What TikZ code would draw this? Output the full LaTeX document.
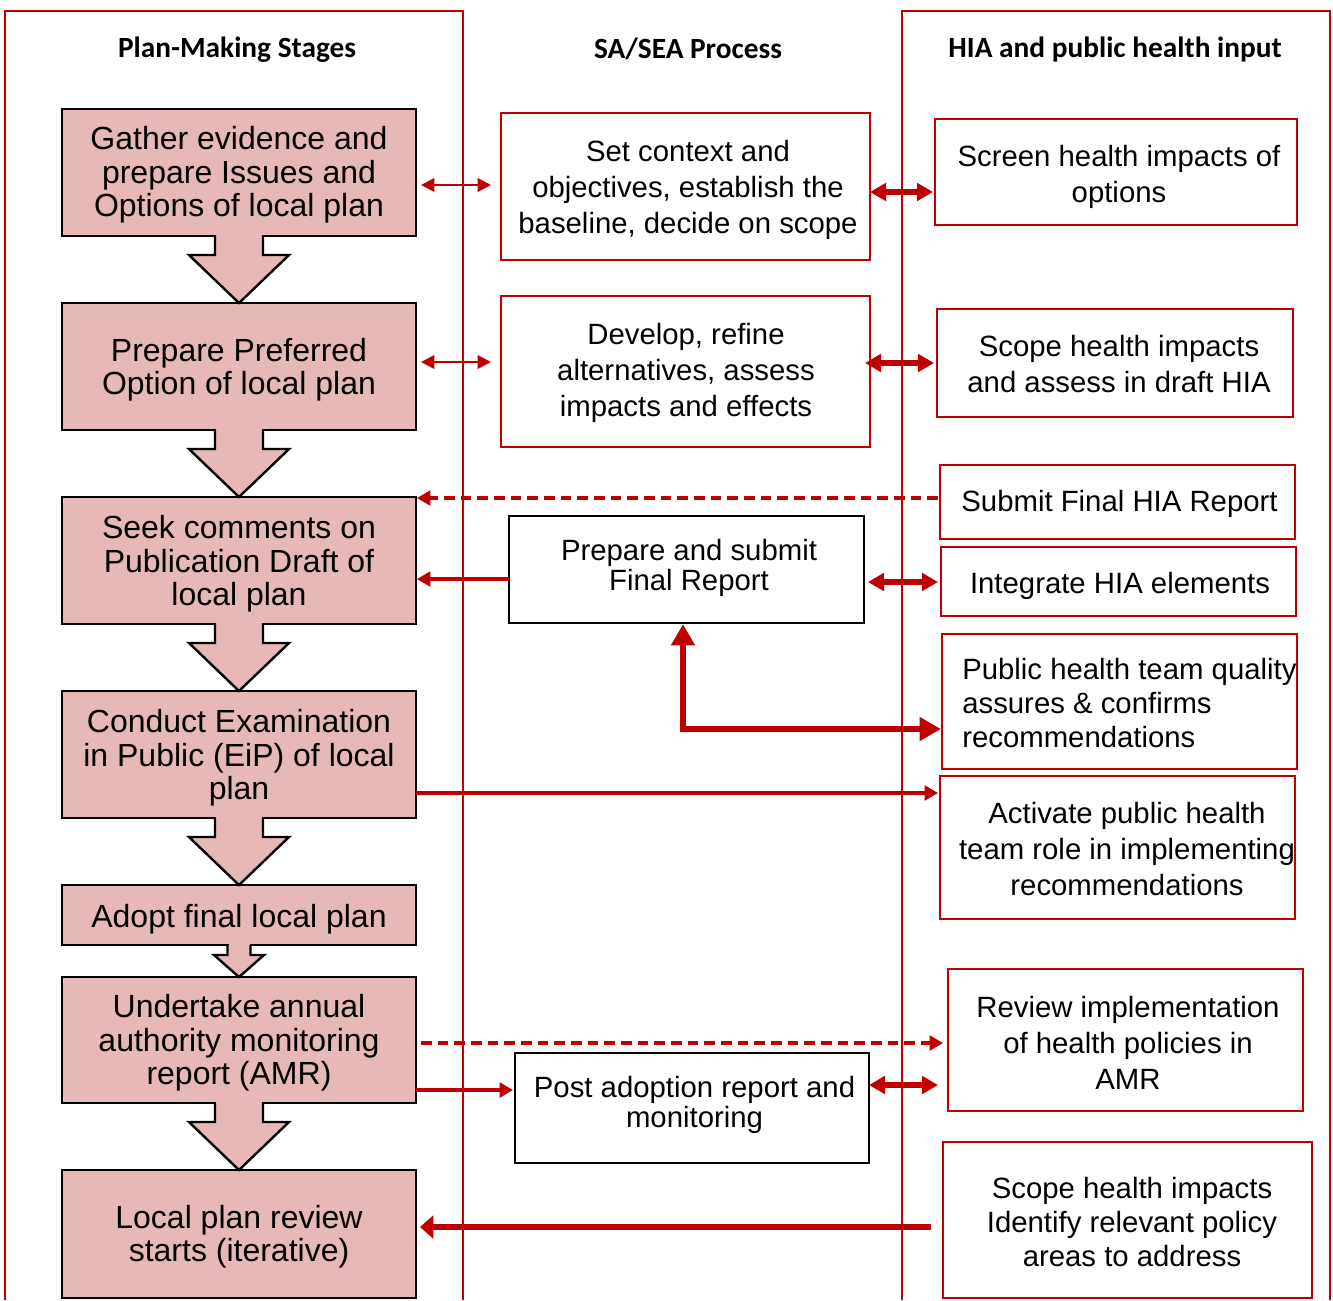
\documentclass[tikz,border=0pt]{standalone}
\usepackage{fontspec}
\setmainfont{Liberation Sans}
\newfontfamily\hdrfont{Carlito}
\usetikzlibrary{arrows.meta,calc,fit}
\definecolor{redc}{HTML}{C00000}
\definecolor{pinkc}{HTML}{E6B8B7}
\newcommand\blockarr[5]{%
 \fill[pinkc] ($(#1.south)+({-#3+1},-2)$) rectangle ($(#1.south)+({#3-1},1)$);
 \filldraw[fill=pinkc,draw=black,line width=1.8pt,line join=miter]
   ($(#1.south)+(-#3,0)$) -- ($(#1.south)+(-#3,#5)$) -- ($(#1.south)+(-#4,#5)$)
   -- (#2.north) -- ($(#1.south)+(#4,#5)$) -- ($(#1.south)+(#3,#5)$) -- ($(#1.south)+(#3,0)$);
}
\begin{document}
\begin{tikzpicture}[x=0.75pt,y=-0.75pt,
 pinkbox/.style={draw=black, fill=pinkc, line width=1.8pt, inner sep=0pt, outer sep=0pt},
 redbox/.style={draw=redc, line width=1.8pt, inner sep=0pt, outer sep=0pt},
 blackbox/.style={draw=black, line width=1.8pt, inner sep=0pt, outer sep=0pt},
 bigtxt/.style={align=center, font=\fontsize{24}{25}\selectfont, inner sep=0pt, yshift=-2.25pt},
 midtxt/.style={align=center, font=\fontsize{22}{27}\selectfont, inner sep=0pt, yshift=-2.25pt},
 hdr/.style={font=\hdrfont\bfseries\fontsize{22}{24}\selectfont, inner sep=0pt, yshift=-2.25pt},
 colline/.style={draw=redc, line width=1.5pt},
 thinarr/.style={draw=redc, line width=2pt, {Triangle[length=10pt,width=10pt]}-{Triangle[length=10pt,width=10pt]}},
 thickarr/.style={draw=redc, line width=4pt, {Triangle[length=12pt,width=13pt]}-{Triangle[length=12pt,width=13pt]}},
 onearr/.style={draw=redc, line width=2.3pt, -{Triangle[length=10pt,width=11pt]}},
 dasharr/.style={draw=redc, line width=2.5pt, dash pattern=on 8pt off 4.5pt, -{Triangle[length=10pt,width=11pt]}},
 heavyarr/.style={draw=redc, line width=5pt, -{Triangle[length=10pt,width=17pt]}},
 elbarr/.style={draw=redc, line width=4.8pt, {Triangle[length=16pt,width=17pt]}-{Triangle[length=16pt,width=17pt]}},
]
\useasboundingbox (0,0) rectangle (1333,1300);

% column frame
\draw[colline] (5,1300) -- (5,11) -- (463,11) -- (463,1300);
\draw[colline] (902,1300) -- (902,11) -- (1330,11) -- (1330,1300);

% headers
\node[hdr] (h1) at (237,47) {Plan-Making Stages};
\node[hdr] (h2) at (688,46) {SA/SEA Process};
\node[hdr] (h3) at (1115,47) {HIA and public health input};

% pink stage boxes
\node[pinkbox, fit={(62,109) (416,236)}] (b1) {};
\node[pinkbox, fit={(62,303) (416,430)}] (b2) {};
\node[pinkbox, fit={(62,497) (416,624)}] (b3) {};
\node[pinkbox, fit={(62,691) (416,818)}] (b4) {};
\node[pinkbox, fit={(62,885) (416,945)}] (b5) {};
\node[pinkbox, fit={(62,977) (416,1103)}] (b6) {};
\node[pinkbox, fit={(62,1170) (416,1298)}] (b7) {};

\node[bigtxt] (t1) at (239,172) {Gather evidence and\\prepare Issues and\\Options of local plan};
\node[bigtxt] (t2) at (239,367) {Prepare Preferred\\Option of local plan};
\node[bigtxt] (t3) at (239,561) {Seek comments on\\Publication Draft of\\local plan};
\node[bigtxt] (t4) at (239,755) {Conduct Examination\\in Public (EiP) of local\\plan};
\node[bigtxt] (t5) at (239,916) {Adopt final local plan};
\node[bigtxt] (t6) at (239,1040) {Undertake annual\\authority monitoring\\report (AMR)};
\node[bigtxt] (t7) at (239,1234) {Local plan review\\starts (iterative)};

% block arrows
\blockarr{b1}{b2}{24}{50}{19}
\blockarr{b2}{b3}{24}{50}{19}
\blockarr{b3}{b4}{24}{50}{19}
\blockarr{b4}{b5}{24}{50}{19}
\blockarr{b5}{b6}{11.5}{25}{10}
\blockarr{b6}{b7}{24}{50}{19}

% middle column
\node[redbox, fit={(501,113) (870,260)}] (m1) {};
\node[redbox, fit={(501,296) (870,447)}] (m2) {};
\node[blackbox, fit={(509,516) (864,623)}] (m3) {};
\node[blackbox, fit={(515,1053) (869,1163)}] (m4) {};
\node[midtxt] (mt1) at (688,187) {Set context and\\objectives, establish the\\baseline, decide on scope};
\node[midtxt] (mt2) at (686,370) {Develop, refine\\alternatives, assess\\impacts and effects};
\node[midtxt, font=\fontsize{22}{22.5}\selectfont] (mt3) at (689,565) {Prepare and submit\\Final Report};
\node[midtxt, font=\fontsize{22}{22.5}\selectfont] (mt4) at (694.5,1102) {Post adoption report and\\monitoring};

% right column
\node[redbox, fit={(935,119) (1297,225)}] (r1) {};
\node[redbox, fit={(937,309) (1293,417)}] (r2) {};
\node[redbox, fit={(940,465) (1295,539)}] (r3) {};
\node[redbox, fit={(941,547) (1296,616)}] (r4) {};
\node[redbox, fit={(942,634) (1297,769)}] (r5) {};
\node[redbox, fit={(940,776) (1295,919)}] (r6) {};
\node[redbox, fit={(948,969) (1303,1111)}] (r7) {};
\node[redbox, fit={(943,1142) (1312,1298)}] (r8) {};
\node[midtxt] (rt1) at (1119,174) {Screen health impacts of\\options};
\node[midtxt] (rt2) at (1119,361) {Scope health impacts\\and assess in draft HIA};
\node[midtxt] (rt3) at (1119.5,501) {Submit Final HIA Report};
\node[midtxt] (rt4) at (1120,583) {Integrate HIA elements};
\node[midtxt, align=left, anchor=west, font=\fontsize{22}{25.5}\selectfont] (rt5) at (962,700) {Public health team quality\\assures \& confirms\\recommendations};
\node[midtxt] (rt6) at (1127,846) {Activate public health\\team role in implementing\\recommendations};
\node[midtxt] (rt7) at (1128,1040) {Review implementation\\of health policies in\\AMR};
\node[midtxt, font=\fontsize{22}{25.5}\selectfont] (rt8) at (1132,1219) {Scope health impacts\\Identify relevant policy\\areas to address};

% connectors
\draw[thinarr] ($(b1.east)+(5,12.5)$) -- ($(m1.west)+(-10,-1.5)$);
\draw[thickarr] ($(m1.east)+(0,5.5)$) -- ($(r1.west)+(-2,20)$);
\draw[thinarr] ($(b2.east)+(5,-4.5)$) -- ($(m2.west)+(-10,-9.5)$);
\draw[thickarr] ($(m2.east)+(-5,-8.5)$) -- ($(r2.west)+(-3,0)$);
\draw[dasharr] ($(r3.west)+(-2,-4)$) -- ($(b3.north east)+(1,1)$);
\draw[onearr] ($(m3.west)+(0,9.5)$) -- ($(b3.east)+(1,18.5)$);
\draw[thickarr] ($(m3.east)+(4,12.5)$) -- ($(r4.west)+(-3,0.5)$);
\draw[elbarr] ($(m3.south)+(-3.5,1)$) |- ($(r5.west)+(-1,27.5)$);
\draw[onearr] ($(b4.east)+(0,38.5)$) -- ($(r6.west)+(-2,-54.5)$);
\draw[dasharr] ($(b6.east)+(5,3)$) -- ($(r7.west)+(-5,3)$);
\draw[onearr] ($(b6.east)+(0,50)$) -- ($(m4.west)+(-2,-18)$);
\draw[thickarr] ($(m4.east)+(0,-23)$) -- ($(r7.west)+(-10,45)$);
\draw[heavyarr] ($(r8.west)+(-12,7)$) -- ($(b7.east)+(4,-7)$);
\end{tikzpicture}
\end{document}
